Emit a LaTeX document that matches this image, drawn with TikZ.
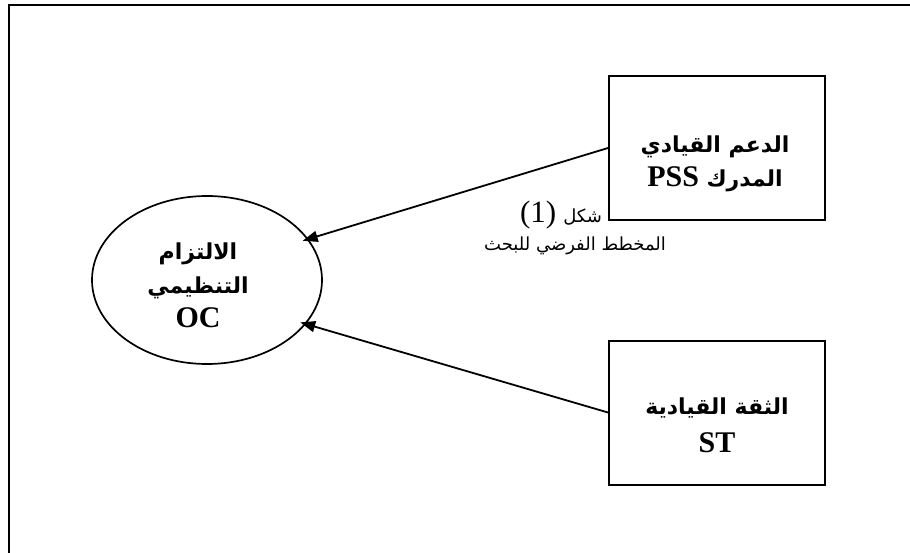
\documentclass[tikz,border=0pt]{standalone}
\usepackage{fontspec}
\setmainfont{Liberation Serif}
\newfontfamily\arabicfont[Script=Arabic]{DejaVu Sans}
\TeXXeTstate=1
\usetikzlibrary{arrows.meta,shapes.geometric}
\newcommand{\arb}{\fontsize{22}{33}\arabicfont}
\newcommand{\arc}{\fontsize{18}{32}\arabicfont}
\begin{document}
\begin{tikzpicture}[x=1pt,y=-1pt,
  frameline/.style={line width=2pt},
  boxnode/.style={draw, line width=2pt, minimum width=216pt, minimum height=144pt, inner sep=0pt},
  ellnode/.style={draw, ellipse, line width=1.7pt, minimum width=230pt, minimum height=168pt, inner sep=0pt},
  boldtxt/.style={font=\fontsize{30}{34}\selectfont\bfseries, align=center, inner sep=0pt},
  captxt/.style={font=\fontsize{31}{32}\selectfont, inner sep=0pt},
  link/.style={line width=1.8pt, shorten >=-6pt, -{Triangle[length=15pt,width=11pt]}}]
\useasboundingbox (0,0) rectangle (910,553);
% outer frame (only left and top edges visible)
\coordinate (fbl) at (9,553);
\coordinate (ftl) at (9,5);
\coordinate (ftr) at (910,5);
\draw[frameline] (fbl) -- (ftl) -- (ftr);
% caption
\node[captxt] (cap1) at (561,215) {\beginR{\arc شكل}\hspace{7pt}\beginL(1)\endL\endR};
\node[captxt] (cap2) at (575,246) {\arc\beginR المخطط الفرضي للبحث\endR};
% boxes
\node[boxnode] (pss) at (717,148) {};
\node[boxnode] (st) at (717,412.5) {};
\node[boldtxt] (psstxt) at (715,164) {{\arb\beginR الدعم القيادي\endR}\\ \beginR{\arb المدرك} \beginL PSS\endL\endR};
\node[boldtxt] (sttxt) at (717,425) {{\arb\beginR الثقة القيادية\endR}\\[4pt] ST};
% ellipse
\node[ellnode] (oc) at (207,280) {};
\node[boldtxt] (octxt) at (198,285) {{\arb\beginR الالتزام\endR}\\ {\arb\beginR التنظيمي\endR}\\ OC};
% connectors
\draw[link] (pss.west) -- (oc.22);
\draw[link] (st.west) -- (oc.-24);
\end{tikzpicture}
\end{document}
